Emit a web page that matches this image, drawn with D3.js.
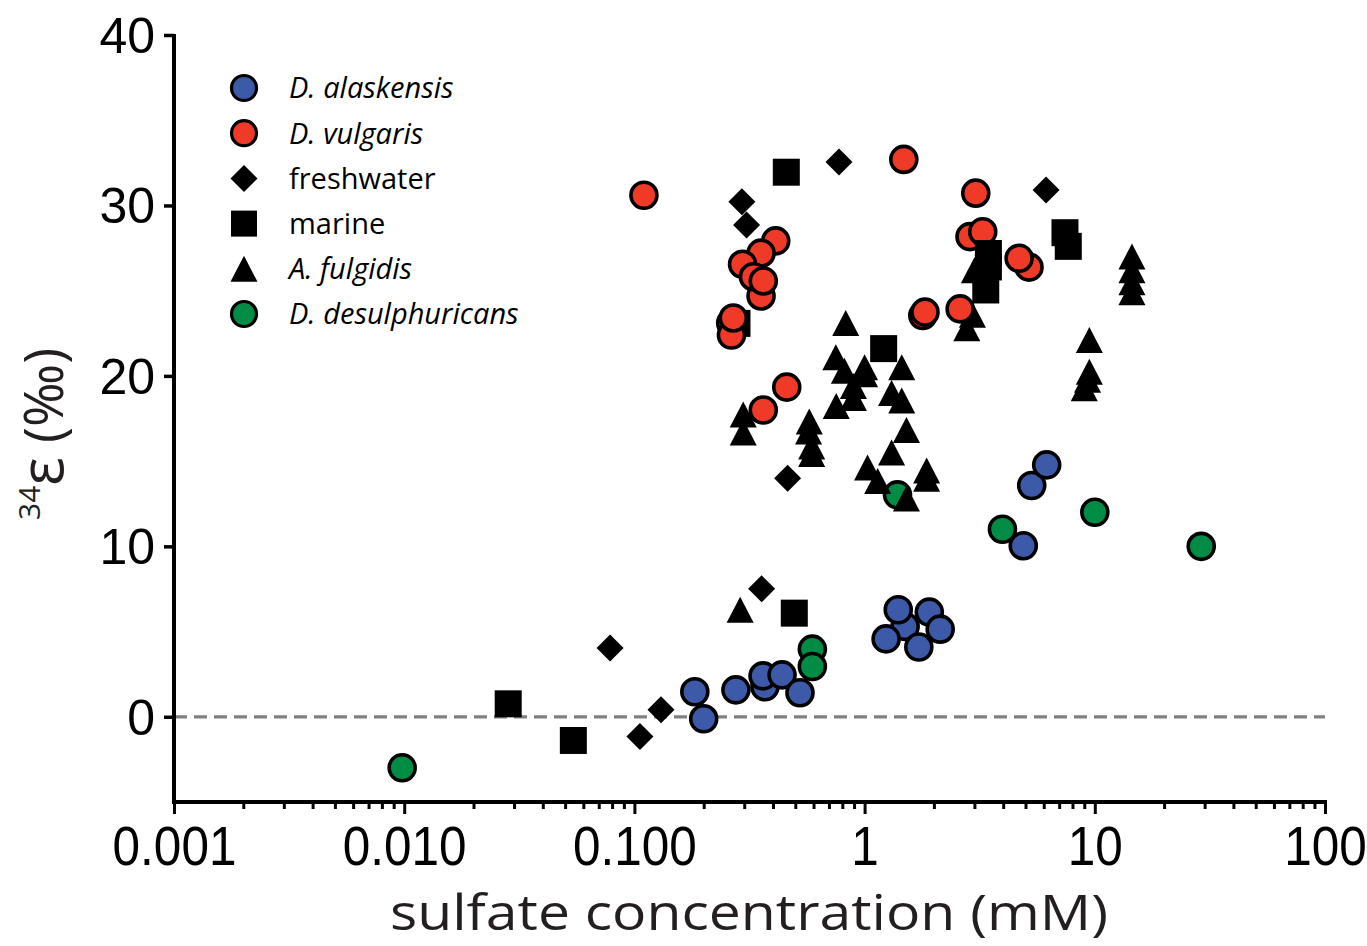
<!DOCTYPE html>
<html>
<head>
<meta charset="utf-8">
<script src="https://cdn.jsdelivr.net/npm/d3@7"></script>
<style>
  html, body { margin: 0; padding: 0; background: #fff; }
  svg { display: block; }
</style>
</head>
<body>
<svg id="chart" width="1367" height="946"></svg>
<script>
// ---- data (sulfate concentration mM, 34-epsilon permil) ----
const alaskensis = [[0.183,1.47],[0.200,-0.12],[0.276,1.58],[0.369,1.76],[0.362,2.40],[0.438,2.46],[0.524,1.41],
  [1.50,5.30],[1.24,4.57],[1.40,6.28],[1.91,6.14],[2.13,5.14],[1.72,4.09],[4.89,10.03],[5.32,13.57],[6.18,14.78]];
const vulgaris = [[0.110,30.6],[0.411,27.92],[0.355,27.2],[0.295,26.55],[0.355,24.69],[0.329,25.82],[0.363,25.57],
  [0.262,23.1],[0.264,22.4],[0.269,23.4],[0.459,19.34],[0.363,18.0],[1.48,32.7],[3.04,30.72],[2.87,28.17],[3.26,28.46],
  [5.18,26.38],[4.69,26.9],[1.79,23.54],[1.83,23.74],[2.60,23.93]];
const freshwater = [[0.774,32.55],[0.293,30.22],[0.307,28.86],[6.14,30.9],[0.463,14.0],[0.357,7.51],[0.0784,4.03],
  [0.1305,0.41],[0.1057,-1.15]];
const marine = [[0.457,31.95],[7.42,28.4],[7.67,27.6],[3.45,27.18],[3.45,26.39],[3.36,25.04],[0.279,23.08],
  [1.21,21.6],[0.0283,0.76],[0.0543,-1.39],[0.495,6.08]];
const fulgidis = [[0.288,6.28],[0.828,23.1],[0.750,21.1],[0.817,20.3],[1.00,20.5],[1.00,20.1],[0.894,19.4],
  [0.894,18.7],[0.753,18.24],[1.45,20.5],[1.31,19.0],[1.45,18.55],[1.52,16.83],[1.31,15.5],[1.03,14.62],[1.14,13.84],
  [1.52,12.8],[1.86,14.45],[1.86,13.96],[0.297,17.73],[0.297,16.68],[0.575,17.32],[0.571,16.73],[0.589,15.85],
  [0.589,15.42],[2.78,22.8],[2.94,23.58],[3.0,26.2],[14.5,27.0],[14.5,26.2],[14.5,25.5],[14.5,24.9],[9.47,22.1],
  [9.47,20.25],[9.3,19.77],[9.0,19.28]];
const desulphuricans = [[0.0098,-2.99],[0.593,3.97],[0.593,2.95],[1.39,13.02],[3.97,11.0],[10.0,12.0],[29.0,10.0]];

const xTickValues = [0.001, 0.01, 0.1, 1, 10, 100];
const xTickLabels = ["0.001", "0.010", "0.100", "1", "10", "100"];
const yTickValues = [0, 10, 20, 30, 40];
const legendLabels = ["D. alaskensis", "D. vulgaris", "freshwater", "marine", "A. fulgidis", "D. desulphuricans"];

// ---- setup ----
const svg = d3.select("#chart");
svg.append("rect").attr("width", 1367).attr("height", 946).attr("fill", "#fff");

const x = d3.scaleLog().domain([0.001, 100]).range([174, 1325]);
const y = d3.scaleLinear().domain([-5, 40]).range([802, 35]);

const colors = { blue: "#3d5aa8", red: "#ee3a27", green: "#008c45" };

// triangle centred on its bounding box
const triBox = {
  draw(ctx, size) {
    const s = Math.sqrt(size);
    ctx.moveTo(0, -s / 2);
    ctx.lineTo(s * 0.52, s / 2);
    ctx.lineTo(-s * 0.52, s / 2);
    ctx.closePath();
  }
};
// square rotated by 45 degrees; size = (diagonal)^2
const diamond45 = {
  draw(ctx, size) {
    const h = Math.sqrt(size) / 2;
    ctx.moveTo(0, -h);
    ctx.lineTo(h, 0);
    ctx.lineTo(0, h);
    ctx.lineTo(-h, 0);
    ctx.closePath();
  }
};

// ---- zero line ----
svg.append("line")
  .attr("x1", x(0.001)).attr("x2", x(100))
  .attr("y1", y(0)).attr("y2", y(0))
  .attr("stroke", "#808080").attr("stroke-width", 3.2)
  .attr("stroke-dasharray", "13,7");

// ---- axes ----
const minorTicks = [];
for (let e = -3; e < 2; e++) for (let m = 2; m <= 9; m++) minorTicks.push(m * Math.pow(10, e));

const gx = svg.append("g").attr("transform", `translate(0,${y(-5)})`);
gx.call(d3.axisBottom(x).tickValues(minorTicks).tickSize(7).tickSizeOuter(0).tickFormat(""));
gx.call(g => g.select(".domain").remove());
const gx2 = svg.append("g").attr("transform", `translate(0,${y(-5)})`);
gx2.call(d3.axisBottom(x).tickValues(xTickValues).tickSize(12).tickSizeOuter(0)
  .tickFormat((d, i) => xTickLabels[i]));
[gx, gx2].forEach(g => {
  g.selectAll(".tick line").attr("stroke", "#000").attr("stroke-width", 3);
});
gx2.select(".domain").attr("stroke", "#000").attr("stroke-width", 4)
  .attr("d", `M${x(0.001) - 2},0H${x(100) + 2}`);
gx2.selectAll(".tick text")
  .attr("y", 63).attr("dy", 0)
  .attr("transform", "scale(0.9,1)")
  .attr("font-family", "'Liberation Sans', Arial, sans-serif")
  .attr("font-size", 55).attr("fill", "#000");

const gy = svg.append("g").attr("transform", `translate(${x(0.001)},0)`);
gy.call(d3.axisLeft(y).tickValues(yTickValues).tickSize(10).tickSizeOuter(0).tickFormat(d3.format("d")));
gy.select(".domain").attr("stroke", "#000").attr("stroke-width", 4)
  .attr("d", `M0,${y(40) - 1}V${y(-5) + 2}`);
gy.selectAll(".tick line").attr("stroke", "#000").attr("stroke-width", 3.5);
gy.selectAll(".tick text")
  .attr("x", -19).attr("dy", "0.35em")
  .attr("font-family", "'Liberation Sans', Arial, sans-serif")
  .attr("font-size", 50).attr("fill", "#000");

// ---- axis titles ----
svg.append("text")
  .attr("x", 749).attr("y", 930)
  .attr("text-anchor", "middle")
  .attr("font-family", "'Open Sans', sans-serif")
  .attr("font-size", 49)
  .attr("fill", "#231f20")
  .attr("textLength", 718).attr("lengthAdjust", "spacingAndGlyphs")
  .text("sulfate concentration (mM)");

const yt = svg.append("text")
  .attr("transform", "rotate(-90)")
  .attr("x", -520).attr("y", 63)
  .attr("font-family", "'Open Sans', sans-serif")
  .attr("fill", "#231f20");
yt.append("tspan").attr("font-size", 30).attr("dy", -23).text("34");
yt.append("tspan").attr("font-size", 60).attr("dy", 23).text("ε");
yt.append("tspan").attr("font-size", 54).text(" (‰)");

// ---- points ----
function circles(data, fill) {
  svg.append("g").selectAll("circle").data(data).join("circle")
    .attr("cx", d => x(d[0])).attr("cy", d => y(d[1]))
    .attr("r", 13).attr("fill", fill)
    .attr("stroke", "#000").attr("stroke-width", 3.6);
}
function symbols(data, type, size) {
  svg.append("g").selectAll("path").data(data).join("path")
    .attr("transform", d => `translate(${x(d[0])},${y(d[1])})`)
    .attr("d", d3.symbol().type(type).size(size))
    .attr("fill", "#000");
}
circles(desulphuricans, colors.green);
symbols(fulgidis, triBox, 26 * 26);
circles(vulgaris.filter(d => d[0] > 1), colors.red);
symbols(marine, d3.symbolSquare, 27 * 27);
circles(vulgaris.filter(d => d[0] <= 1), colors.red);
symbols(freshwater, diamond45, 27 * 27);
circles(alaskensis, colors.blue);

// ---- legend ----
const legendTypes = ["cb", "cr", "diamond", "square", "tri", "cg"];
const lg = svg.append("g");
legendTypes.forEach((t, i) => {
  const cy = 88 + i * 45.2;
  const cx = 244;
  if (t[0] === "c") {
    lg.append("circle").attr("cx", cx).attr("cy", cy).attr("r", 12.5)
      .attr("fill", t === "cb" ? colors.blue : t === "cr" ? colors.red : colors.green)
      .attr("stroke", "#000").attr("stroke-width", 3.2);
  } else {
    const type = t === "diamond" ? diamond45 : t === "square" ? d3.symbolSquare : triBox;
    const size = t === "diamond" ? 27 * 27 : t === "square" ? 26 * 26 : 26 * 26;
    lg.append("path").attr("transform", `translate(${cx},${cy})`)
      .attr("d", d3.symbol().type(type).size(size)).attr("fill", "#000");
  }
  lg.append("text")
    .attr("x", 289).attr("y", cy).attr("dy", "0.36em")
    .attr("font-family", "'Open Sans', sans-serif")
    .attr("font-size", 29)
    .attr("font-style", (i === 2 || i === 3) ? "normal" : "italic")
    .attr("fill", "#000")
    .text(legendLabels[i]);
});
</script>
</body>
</html>
